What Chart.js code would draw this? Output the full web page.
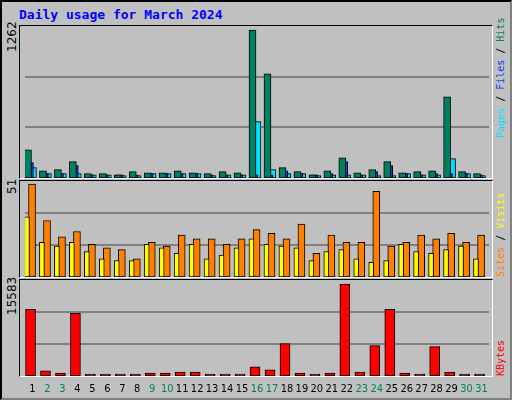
<!DOCTYPE html>
<html>
<head>
<meta charset="utf-8">
<script src="https://cdn.jsdelivr.net/npm/chart.js@4"></script>
<style>
  body { margin: 0; background: #fff; }
  #frame { position: absolute; left: 0; top: 0; width: 508px; height: 396px; background: #c0c0c0;
           border: 2px solid #000; border-right-color: #808080; border-bottom-color: #808080; }
  .panel { position: absolute; left: 19px; width: 472px; border: 1px solid #000; border-right-color: #fff; border-bottom-color: #fff; }
  .panel canvas { display: block; }
  #c3 { position: absolute; left: 20px; top: 280px; }
  #title { position: absolute; left: 19px; top: 7px; font: bold 13px "DejaVu Sans Mono", monospace; color: #0000ff; }
  .vlab { position: absolute; transform-origin: left top; transform: rotate(-90deg); white-space: nowrap;
          font: 10px "DejaVu Sans Mono", monospace; line-height: 12px; }
  .max { font: 12px "DejaVu Sans", sans-serif; color: #000; }
</style>
</head>
<body>
<div id="frame"></div>
<div id="title">Daily usage for March 2024</div>
<div class="panel" style="top:25px;height:152px"><canvas id="c1" width="472" height="152"></canvas></div>
<div class="panel" style="top:180px;height:96px"><canvas id="c2" width="472" height="96"></canvas></div>
<div class="panel" style="top:279px;height:96px"></div>
<canvas id="c3" width="472" height="118"></canvas>
<div class="vlab max" style="left:5px;top:52px">1262</div>
<div class="vlab max" style="left:5px;top:194px">51</div>
<div class="vlab max" style="left:5px;top:315px">15583</div>
<div class="vlab" style="left:495px;top:138px"><span style="color:#00e0ff">Pages</span><span style="color:#000"> / </span><span style="color:#0040ff">Files</span><span style="color:#000"> / </span><span style="color:#008060">Hits</span></div>
<div class="vlab" style="left:495px;top:277px"><span style="color:#ff8000">Sites</span><span style="color:#000"> / </span><span style="color:#ffff00">Visits</span></div>
<div class="vlab" style="left:495px;top:376px"><span style="color:#ff0000">KBytes</span></div>
<script>
const days = ['1','2','3','4','5','6','7','8','9','10','11','12','13','14','15','16','17','18','19','20','21','22','23','24','25','26','27','28','29','30','31'];
const weekend = ['2','3','9','10','16','17','23','24','30','31'];
const hits  = [241,62,71,139,37,37,28,54,45,45,62,45,37,54,45,1262,889,88,54,28,62,173,45,71,139,45,54,62,693,54,37];
const files = [131,37,37,105,28,28,28,28,37,37,37,37,28,28,28,28,28,62,37,28,37,139,28,54,105,37,28,37,37,37,28];
const pages = [88,37,37,37,28,28,20,20,37,37,37,37,20,28,28,480,71,37,37,20,28,28,28,20,20,37,28,28,165,37,20];
const visits = [51,31,22,25,18,16,15,10,19,17,23,21,21,18,21,26,24,21,29,13,23,19,19,47,17,19,23,21,24,19,23];
const sites  = [33,19,17,19,14,10,9,9,18,16,13,18,10,12,16,21,18,17,16,9,14,15,10,8,9,18,14,13,15,17,10];
const kbytes = [11302,856,514,10617,342,342,342,342,514,514,685,685,342,342,342,1541,1027,5480,514,342,514,15583,685,5137,11302,514,342,4966,685,342,342];

// each series is drawn shifted a bit inside its day slot, overlapping like webalizer does
function ds(data, color, shift, thick) {
  return { data: data.map((v, i) => ({ x: i + shift, y: v })), backgroundColor: color,
           borderColor: '#000', borderWidth: 1, borderSkipped: false, barThickness: thick, grouped: false };
}

// day numbers under the bottom panel, weekends in green
const dayLabels = {
  id: 'dayLabels',
  afterDraw(chart, args, opts) {
    if (!opts.show) return;
    const ctx = chart.ctx, x = chart.scales.x;
    ctx.save();
    ctx.font = '11px "DejaVu Sans Condensed", "Liberation Sans Narrow", sans-serif';
    ctx.textAlign = 'center';
    ctx.textBaseline = 'middle';
    days.forEach((d, i) => {
      ctx.fillStyle = weekend.includes(d) ? '#008060' : '#000';
      ctx.fillText(d, x.getPixelForValue(i), chart.chartArea.bottom + 13);
    });
    ctx.restore();
  }
};

function makeChart(id, sets, max, showDays) {
  new Chart(document.getElementById(id), {
    type: 'bar',
    data: { datasets: sets },
    plugins: [dayLabels],
    options: {
      responsive: false, animation: false, events: [],
      layout: { padding: { left: 5, right: 3, bottom: showDays ? 22 : 0 } },
      plugins: { legend: { display: false }, tooltip: { enabled: false }, dayLabels: { show: showDays } },
      scales: {
        x: { type: 'linear', min: -0.5, max: days.length - 0.5, display: false, offset: false },
        y: { min: 0, max: max, ticks: { display: false, stepSize: max / 3 },
             grid: { color: '#808080', drawTicks: false, lineWidth: c => (c.tick.value > 0 && c.tick.value < max - 1) ? 2 : 0 },
             border: { display: false } }
      }
    }
  });
}
makeChart('c1', [ds(hits, '#008060', -0.3, 7), ds(files, '#0040ff', -0.17, 7), ds(pages, '#00e0ff', 0.03, 7)], 1296, false);
makeChart('c2', [ds(sites, '#ffff00', -0.37, 5), ds(visits, '#ff8000', -0.03, 7)], 52.7, false);
makeChart('c3', [ds(kbytes, '#ff0000', -0.13, 10)], 16268, true);
</script>
</body>
</html>
